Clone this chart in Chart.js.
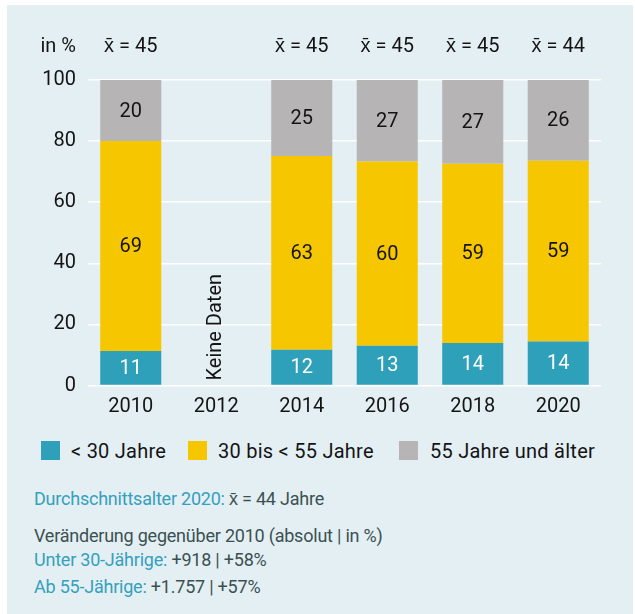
<!DOCTYPE html>
<html>
<head>
<meta charset="utf-8">
<script src="https://cdn.jsdelivr.net/npm/chart.js@4/dist/chart.umd.min.js"></script>
<style>
  html, body { margin: 0; padding: 0; background: #fff; }
  body { width: 635px; height: 614px; position: relative; overflow: hidden; font-family: Roboto, sans-serif; }
  #panel { position: absolute; left: 7px; top: 5px; width: 626px; height: 609px; background: #e4eff4; }
  #wrap { position: absolute; left: 0; top: 0; width: 635px; height: 430px; }
  .sw { position: absolute; top: 441px; width: 19px; height: 19px; }
  .lt { position: absolute; top: 438px; font-size: 20px; letter-spacing: 0.25px; color: #141414; line-height: 26px; white-space: nowrap; }
  .note { position: absolute; left: 34px; font-size: 18px; letter-spacing: -0.22px; line-height: 24px; color: #3b5151; white-space: nowrap; }
  .note span { color: #35a0bd; }
</style>
</head>
<body>
<div id="panel"></div>
<div id="wrap"><canvas id="c" width="635" height="430"></canvas></div>

<div class="sw" style="left:41px;background:#2ea0b9"></div>
<div class="lt" style="left:71px">&lt; 30 Jahre</div>
<div class="sw" style="left:188px;background:#f6c600"></div>
<div class="lt" style="left:218px">30 bis &lt; 55 Jahre</div>
<div class="sw" style="left:399px;background:#b6b4b5"></div>
<div class="lt" style="left:430px">55 Jahre und älter</div>

<div class="note" style="top:487px"><span>Durchschnittsalter 2020:</span> x̄ = 44 Jahre</div>
<div class="note" style="top:524px">Veränderung gegenüber 2010 (absolut | in %)</div>
<div class="note" style="top:548px"><span>Unter 30-Jährige:</span> +918 | +58%</div>
<div class="note" style="top:575px"><span>Ab 55-Jährige:</span> +1.757 | +57%</div>

<script>
// Altersstruktur in %, Anteile (Beschriftung = gerundeter Wert)
const years = ["2010", "2012", "2014", "2016", "2018", "2020"];
const under30 = [11.3, null, 11.7, 13.0, 13.9, 14.4];
const age30to55 = [68.7, null, 63.4, 60.3, 58.7, 59.2];
const over55 = [20.0, null, 24.9, 26.7, 27.4, 26.4];
const meanAge = [45, null, 45, 45, 45, 44];
const yTicks = [0, 20, 40, 60, 80, 100];

const TEXT = "#141414";
const FONT = "Roboto, sans-serif";

const labelPlugin = {
  id: "barText",
  afterDatasetsDraw(chart) {
    const ctx = chart.ctx;
    const xs = chart.scales.x;
    const ys = chart.scales.y;
    ctx.save();
    ctx.font = "20px " + FONT;
    ctx.textAlign = "center";
    ctx.textBaseline = "middle";
    chart.data.datasets.forEach((ds, di) => {
      chart.getDatasetMeta(di).data.forEach((bar, i) => {
        const v = ds.data[i];
        if (v === null) return;
        ctx.fillStyle = di === 0 ? "#ffffff" : TEXT;
        ctx.fillText(String(Math.round(v)), bar.x, (bar.y + bar.base) / 2 + 1);
      });
    });
    // Durchschnittsalter über den Säulen
    ctx.fillStyle = TEXT;
    meanAge.forEach((m, i) => {
      if (m === null) return;
      ctx.fillText("x\u0304 = " + m, xs.getPixelForValue(i), 47);
    });
    ctx.textAlign = "right";
    ctx.fillText("in %", 76, 47);
    // fehlendes Jahr
    const gap = meanAge.indexOf(null);
    ctx.translate(xs.getPixelForValue(gap), ys.getPixelForValue(0) - 5);
    ctx.rotate(-Math.PI / 2);
    ctx.textAlign = "left";
    ctx.fillText("Keine Daten", 0, 0);
    ctx.restore();
  },
};

new Chart(document.getElementById("c"), {
  type: "bar",
  data: {
    labels: years,
    datasets: [
      { label: "< 30 Jahre", data: under30, backgroundColor: "#2ea0b9" },
      { label: "30 bis < 55 Jahre", data: age30to55, backgroundColor: "#f6c600" },
      { label: "55 Jahre und älter", data: over55, backgroundColor: "#b6b4b5" },
    ],
  },
  options: {
    responsive: false,
    animation: false,
    events: [],
    layout: { padding: { left: 0, top: 80, right: 34, bottom: 4.5 } },
    datasets: { bar: { categoryPercentage: 1, barPercentage: 0.714, borderWidth: 0 } },
    plugins: { legend: { display: false }, tooltip: { enabled: false } },
    scales: {
      x: {
        stacked: true,
        grid: { display: false, drawTicks: false },
        border: { display: false },
        ticks: { color: TEXT, font: { family: FONT, size: 20 }, padding: 9 },
        afterFit: (s) => { s.height = 40; },
      },
      y: {
        stacked: true,
        min: 0,
        max: 100,
        afterBuildTicks: (s) => { s.ticks = yTicks.map((v) => ({ value: v })); },
        grid: { color: "#ffffff", lineWidth: 1.5, drawTicks: false },
        border: { display: false },
        ticks: { color: TEXT, font: { family: FONT, size: 20 }, padding: 12 },
        afterFit: (s) => { s.width = 88; },
      },
    },
  },
  plugins: [labelPlugin],
});
</script>
</body>
</html>
